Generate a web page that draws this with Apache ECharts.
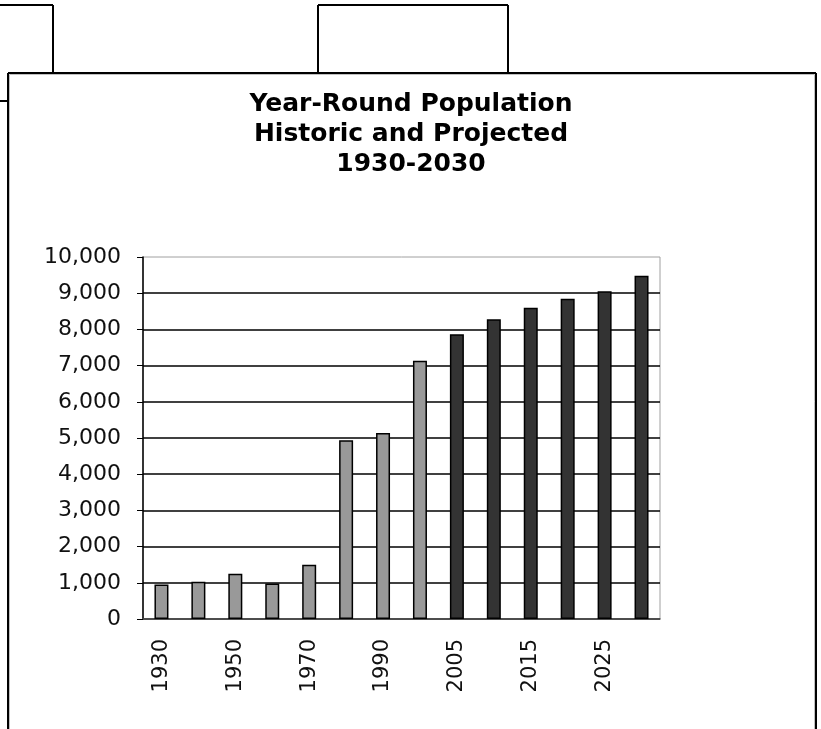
<!DOCTYPE html>
<html>
<head>
<meta charset="utf-8">
<script src="https://cdn.jsdelivr.net/npm/echarts@6/dist/echarts.min.js"></script>
<style>
html,body{margin:0;padding:0;background:#fff;}
#chart{width:821px;height:729px;}
</style>
</head>
<body>
<div id="chart"></div>
<script>
// Data
const years = ['1930','1940','1950','1960','1970','1980','1990','2000','2005','2010','2015','2020','2025','2030'];
const historic = [955, 1030, 1250, 980, 1500, 4940, 5140, 7135, null, null, null, null, null, null];
const projected = [null, null, null, null, null, null, null, null, 7865, 8280, 8595, 8850, 9055, 9480];
const yTicks = [0, 1000, 2000, 3000, 4000, 5000, 6000, 7000, 8000, 9000, 10000];
const titleLines = ['Year-Round Population', 'Historic and Projected', '1930-2030'];

const chart = echarts.init(document.getElementById('chart'), null, {renderer: 'canvas'});
const FONT = 'DejaVu Sans';
const black = '#000';

const frame = [
  // spreadsheet cell borders behind the chart
  {type:'line', shape:{x1:0,y1:5,x2:53,y2:5}, style:{stroke:black,lineWidth:2}},
  {type:'line', shape:{x1:53,y1:5,x2:53,y2:72}, style:{stroke:black,lineWidth:2}},
  {type:'line', shape:{x1:318,y1:5,x2:508,y2:5}, style:{stroke:black,lineWidth:2}},
  {type:'line', shape:{x1:318,y1:5,x2:318,y2:72}, style:{stroke:black,lineWidth:2}},
  {type:'line', shape:{x1:508,y1:5,x2:508,y2:72}, style:{stroke:black,lineWidth:2}},
  {type:'line', shape:{x1:0,y1:101,x2:8,y2:101}, style:{stroke:black,lineWidth:2}},
  // chart frame
  {type:'line', shape:{x1:8,y1:73,x2:816,y2:73}, style:{stroke:black,lineWidth:2}},
  {type:'line', shape:{x1:8,y1:73,x2:8,y2:729}, style:{stroke:black,lineWidth:2}},
  {type:'line', shape:{x1:816,y1:73,x2:816,y2:729}, style:{stroke:black,lineWidth:2}},
  {type:'line', shape:{x1:9.5,y1:74.5,x2:814.5,y2:74.5}, style:{stroke:'#c0c0c0',lineWidth:1}},
  {type:'line', shape:{x1:9.5,y1:74.5,x2:9.5,y2:729}, style:{stroke:'#c0c0c0',lineWidth:1}},
  {type:'line', shape:{x1:814.5,y1:74.5,x2:814.5,y2:729}, style:{stroke:'#c0c0c0',lineWidth:1}}
];

chart.setOption({
  animation: false,
  backgroundColor: '#fff',
  title: {
    text: titleLines.join('\n'),
    left: 411,
    textAlign: 'center',
    top: 89,
    padding: 0,
    textStyle: {fontFamily: FONT, fontWeight: 'bold', fontSize: 25, lineHeight: 30, color: '#000'}
  },
  graphic: frame,
  grid: {left: 143, top: 257, right: 161, bottom: 110, show: true, borderColor: '#a0a0a0', borderWidth: 1, backgroundColor: 'transparent'},
  xAxis: {
    type: 'category',
    data: years,
    axisLine: {lineStyle: {color: '#555', width: 1.5}},
    axisTick: {show: false},
    axisLabel: {interval: 1, rotate: 90, margin: 20, fontFamily: FONT, fontSize: 21, color: '#111'}
  },
  yAxis: {
    type: 'value',
    min: 0, max: 10000, interval: 1000,
    axisLine: {show: true, lineStyle: {color: '#000', width: 1.5}},
    axisTick: {show: true, length: 6, lineStyle: {color: '#000'}},
    axisLabel: {margin: 22, fontFamily: FONT, fontSize: 22, color: '#111',
      formatter: v => v.toLocaleString('en-US')},
    splitLine: {show: true, showMaxLine: false, lineStyle: {color: '#000', width: 1.5}}
  },
  series: [
    {type: 'bar', name: 'Historic', data: historic, stack: 'a', barWidth: 14,
      itemStyle: {color: '#999999', borderColor: '#000', borderWidth: 1.5}},
    {type: 'bar', name: 'Projected', data: projected, stack: 'a', barWidth: 14,
      itemStyle: {color: '#333333', borderColor: '#000', borderWidth: 1.5}}
  ]
});
</script>
</body>
</html>
